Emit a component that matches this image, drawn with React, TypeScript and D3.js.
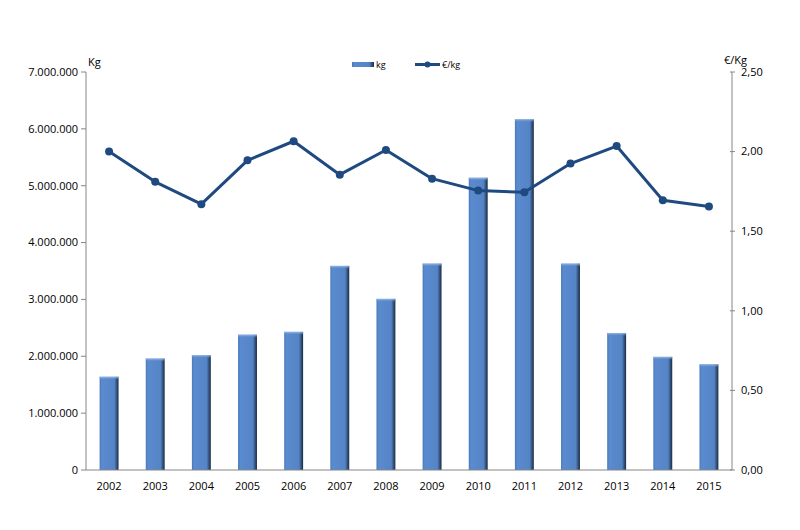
import React from "react";
import * as d3 from "d3";

const years = ["2002","2003","2004","2005","2006","2007","2008","2009","2010","2011","2012","2013","2014","2015"];
const kg = [1640000,1960000,2020000,2380000,2430000,3590000,3010000,3630000,5140000,6170000,3630000,2410000,1990000,1860000];
const eurKg = [2.0,1.81,1.67,1.945,2.065,1.855,2.01,1.83,1.755,1.745,1.925,2.035,1.695,1.655];
const leftTicks = [0,1000000,2000000,3000000,4000000,5000000,6000000,7000000];
const rightTicks = [0,0.5,1,1.5,2,2.5];

const W = 800, H = 530;
const m = { left: 86, right: 68, top: 72, bottom: 60 };
const plotR = W - m.right;
const plotB = H - m.bottom;

const fmtLeft = (v: number) => v === 0 ? "0" : d3.format(",")(v).replace(/,/g, ".");
const fmtRight = (v: number) => v.toFixed(2).replace(".", ",");

export default function App() {
  const x = d3.scaleBand().domain(years).range([m.left, plotR]).paddingInner(0.59).paddingOuter(0.295);
  const yL = d3.scaleLinear().domain([0, 7000000]).range([plotB, m.top]);
  const yR = d3.scaleLinear().domain([0, 2.5]).range([plotB, m.top]);
  const line = d3.line<number>().x((_, i) => x(years[i])! + x.bandwidth() / 2).y(d => yR(d));
  const font = "Open Sans, Liberation Sans, sans-serif";
  const axisColor = "#868686";
  return (
    <svg width={W} height={H} style={{ position: "absolute", left: 0, top: 0, background: "#fff" }} fontFamily={font}>
      <defs>
        <linearGradient id="barG" x1="0" x2="1" y1="0" y2="0">
          <stop offset="0" stopColor="#4a79b8" />
          <stop offset="0.12" stopColor="#5a8bcf" />
          <stop offset="0.78" stopColor="#5584c6" />
          <stop offset="0.86" stopColor="#3d6496" />
          <stop offset="1" stopColor="#1b2a40" />
        </linearGradient>
        <linearGradient id="barTop" x1="0" x2="0" y1="0" y2="1">
          <stop offset="0" stopColor="#9fbde6" />
          <stop offset="1" stopColor="#5a8bcf" stopOpacity="0" />
        </linearGradient>
      </defs>
      {/* bars */}
      {kg.map((v, i) => (
        <g key={years[i]}>
          <rect x={x(years[i])} y={yL(v)} width={x.bandwidth()} height={plotB - yL(v)} fill="url(#barG)" />
          <rect x={x(years[i])} y={yL(v)} width={x.bandwidth()} height={3} fill="url(#barTop)" />
        </g>
      ))}
      {/* left axis */}
      <line x1={m.left} x2={m.left} y1={m.top} y2={plotB} stroke={axisColor} strokeWidth={1} />
      {leftTicks.map(t => (
        <g key={t}>
          <line x1={m.left - 5} x2={m.left} y1={yL(t)} y2={yL(t)} stroke={axisColor} />
          <text x={m.left - 8} y={yL(t)} dy="0.35em" textAnchor="end" fontSize={11} fill="#000">{fmtLeft(t)}</text>
        </g>
      ))}
      {/* right axis */}
      <line x1={plotR} x2={plotR} y1={m.top} y2={plotB} stroke={axisColor} strokeWidth={1} />
      {rightTicks.map(t => (
        <g key={t}>
          <line x1={plotR - 2} x2={plotR + 3} y1={yR(t)} y2={yR(t)} stroke={axisColor} />
          <text x={plotR + 9} y={yR(t)} dy="0.35em" textAnchor="start" fontSize={11} fill="#000">{fmtRight(t)}</text>
        </g>
      ))}
      {/* bottom axis */}
      <line x1={m.left} x2={plotR} y1={plotB} y2={plotB} stroke={axisColor} />
      {years.map(yv => (
        <text key={yv} x={x(yv)! + x.bandwidth() / 2} y={plotB + 20} textAnchor="middle" fontSize={11} fill="#000">{yv}</text>
      ))}
      {/* axis titles */}
      <text x={m.left + 2} y={m.top - 6} fontSize={11} fill="#000">Kg</text>
      <text x={plotR - 8} y={m.top - 8} fontSize={11} fill="#000">€/Kg</text>
      {/* line */}
      <path d={line(eurKg) || ""} fill="none" stroke="#1f4a80" strokeWidth={3} strokeLinejoin="round" />
      {eurKg.map((v, i) => (
        <circle key={i} cx={x(years[i])! + x.bandwidth() / 2} cy={yR(v)} r={4} fill="#1f4a80" />
      ))}
      {/* legend */}
      <rect x={352} y={62} width={22} height={5} fill="url(#barG)" />
      <text x={376} y={65} dy="0.35em" fontSize={9} fill="#000">kg</text>
      <line x1={415} x2={440} y1={64.5} y2={64.5} stroke="#1f4a80" strokeWidth={3} />
      <circle cx={427.5} cy={64.5} r={3} fill="#1f4a80" />
      <text x={442} y={65} dy="0.35em" fontSize={9} fill="#000">€/kg</text>
    </svg>
  );
}
